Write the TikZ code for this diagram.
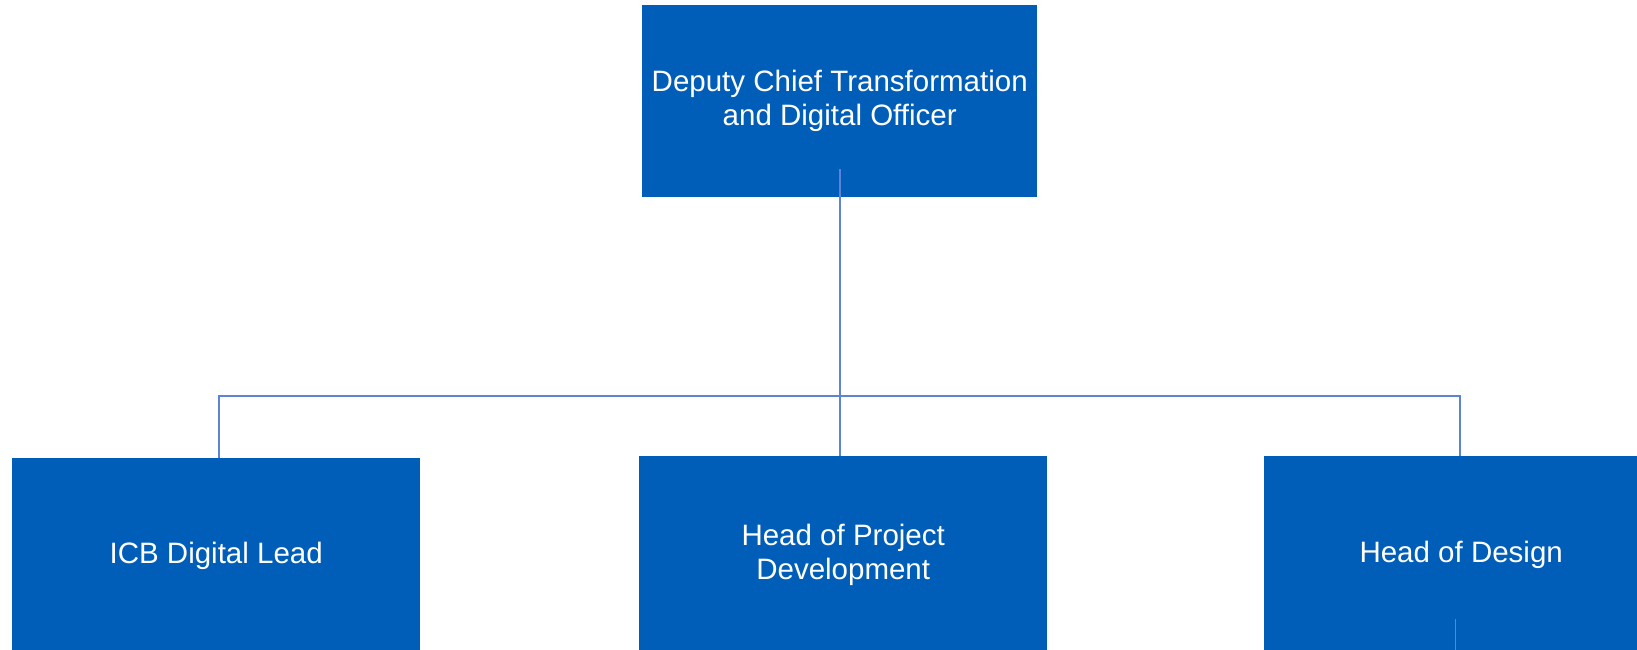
\documentclass[tikz,border=0pt]{standalone}
\usepackage{fontspec}
\setmainfont{Liberation Sans}
\definecolor{boxblue}{HTML}{005EB8}
\definecolor{linkblue}{HTML}{5B84D6}
\tikzset{
  orgbox/.style={fill=boxblue, draw=none, text=white, align=center,
    font=\fontsize{29.5pt}{34pt}\selectfont, inner sep=0pt, anchor=north west},
  link/.style={draw=linkblue, line width=1.5pt}
}
\begin{document}
\begin{tikzpicture}[x=1pt,y=-1pt]
\useasboundingbox (0,0) rectangle (1637,649);
\clip (0,0) rectangle (1637,649);
\fill[white] (0,0) rectangle (1637,649);
\node[orgbox, minimum width=395pt, minimum height=192pt] (top) at (642,5) {Deputy Chief Transformation\\and Digital Officer};
\node[orgbox, minimum width=408pt, minimum height=196pt] (left) at (12,458) {ICB Digital Lead};
\node[orgbox, minimum width=408pt, minimum height=198pt] (mid) at (639,456) {Head of Project\\Development};
\node[orgbox, minimum width=394pt, minimum height=198pt] (right) at (1264,456) {Head of Design};
\coordinate (topstart) at (840,169);
\coordinate (hl) at (219,396);
\coordinate (hr) at (1460,396);
\coordinate (rstart) at (1455,619);
\coordinate (rend) at (1455,660);
\draw[link] (topstart) -- (topstart |- mid.north);
\draw[link] (hl |- left.north) -- (hl) -- (hr) -- (hr |- right.north);
\draw[link, line width=1pt] (rstart) -- (rend);
\end{tikzpicture}
\end{document}
